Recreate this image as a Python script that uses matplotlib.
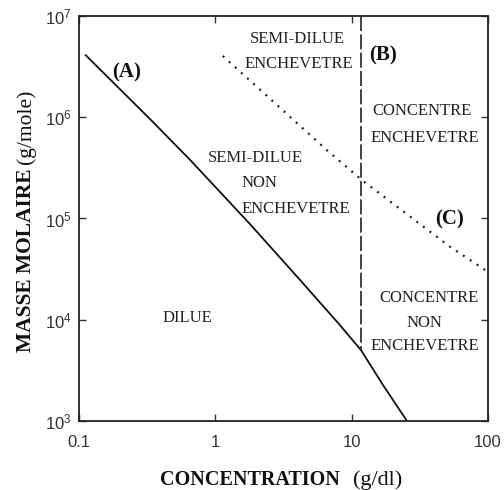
import matplotlib
matplotlib.use("Agg")
import matplotlib.pyplot as plt
from matplotlib.ticker import NullLocator

# courbe (A) : limite dilue / semi-dilue
conc_a = [0.113, 0.334, 0.656, 1.805, 4.2, 8.2, 11.75, 17.0, 25.5]
masse_a = [4.1e6, 9.6e5, 3.8e5, 8.8e4, 2.47e4, 8.9e3, 5.0e3, 2.27e3, 1.0e3]

# droite (B) : concentration limite
conc_b = [11.7, 11.7]
masse_b = [1.0e7, 5.0e3]

# courbe (C) : limite enchevetre
conc_c = [1.14, 6.58, 11.9, 52.7, 100.0]
masse_c = [4.03e6, 4.75e5, 2.40e5, 5.26e4, 2.97e4]

x_ticks = [0.1, 1, 10, 100]
x_tick_labels = ["0.1", "1", "10", "100"]
y_ticks = [1e3, 1e4, 1e5, 1e6, 1e7]

plt.rcParams['font.family'] = ['Liberation Sans', 'DejaVu Sans']
serif = 'Liberation Serif'

fig = plt.figure(figsize=(5.04, 4.90), dpi=100)
ax = fig.add_axes([78.5 / 504, 1 - 421 / 490, 409.5 / 504, 405 / 490])

ax.plot(conc_a, masse_a, color='#111111', lw=1.3)
ax.plot(conc_b, masse_b, color='#222222', lw=1.2, dashes=(9, 2))
ax.plot(conc_c, masse_c, color='#222222', lw=1.6, dashes=(0.9, 2.8))

ax.set_xscale('log')
ax.set_yscale('log')
ax.set_xlim(0.1, 100)
ax.set_ylim(1e3, 1e7)
ax.set_xticks(x_ticks)
ax.set_xticklabels(x_tick_labels)
ax.set_yticks(y_ticks)
ax.xaxis.set_minor_locator(NullLocator())
ax.yaxis.set_minor_locator(NullLocator())

ax.tick_params(which='major', direction='in', length=5, width=1, top=True, right=True,
               labelsize=12, labelcolor='#333333', color='#333333')
ax.tick_params(axis='x', pad=10)
ax.tick_params(axis='y', pad=5)
for s in ax.spines.values():
    s.set_linewidth(1.3)
    s.set_color('#222222')

# textes des zones
txt = dict(transform=ax.transAxes, family=serif, fontsize=12, color='#222222', va='baseline')
ax.text(0.534, 0.933, "SEMI-DILUE", ha='center', **txt)
ax.text(0.539, 0.872, "ENCHEVETRE", ha='center', **txt)
ax.text(0.839, 0.756, "CONCENTRE", ha='center', **txt)
ax.text(0.846, 0.689, "ENCHEVETRE", ha='center', **txt)
ax.text(0.316, 0.640, "SEMI-DILUE", ha='left', **txt)
ax.text(0.399, 0.578, "NON", ha='left', **txt)
ax.text(0.399, 0.514, "ENCHEVETRE", ha='left', **txt)
ax.text(0.856, 0.294, "CONCENTRE", ha='center', **txt)
ax.text(0.846, 0.232, "NON", ha='center', **txt)
ax.text(0.846, 0.175, "ENCHEVETRE", ha='center', **txt)
ax.text(0.267, 0.244, "DILUE", ha='center', **txt)

lbl = dict(transform=ax.transAxes, family=serif, fontsize=15, fontweight='bold',
           color='#111111', va='baseline', ha='center')
ax.text(0.117, 0.847, "(A)", **lbl)
ax.text(0.744, 0.891, "(B)", **lbl)
ax.text(0.907, 0.484, "(C)", **lbl)

# titres des axes (gras + normal)
fig.text(340 / 504, 1 - 485 / 490, "CONCENTRATION", family=serif, fontsize=14.5,
         fontweight='bold', ha='right', va='baseline', color='#111111')
fig.text(353 / 504, 1 - 485 / 490, "(g/dl)", family=serif, fontsize=16,
         ha='left', va='baseline', color='#111111')
fig.text(31 / 504, 1 - 168 / 490, "MASSE MOLAIRE", family=serif, fontsize=15.5,
         fontweight='bold', rotation=90, rotation_mode='anchor',
         ha='right', va='baseline', color='#111111')
fig.text(31 / 504, 1 - 164 / 490, "(g/mole)", family=serif, fontsize=15.5,
         rotation=90, rotation_mode='anchor', ha='left', va='baseline', color='#111111')

fig.savefig("out.png", dpi=100)
